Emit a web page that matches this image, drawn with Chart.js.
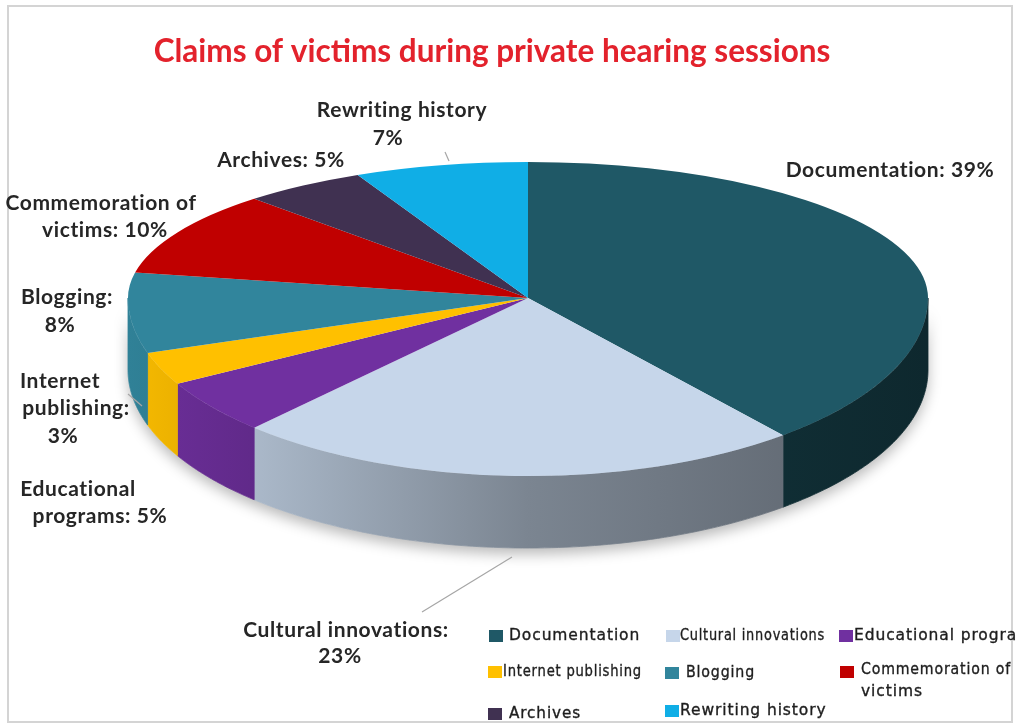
<!DOCTYPE html>
<html>
<head>
<meta charset="utf-8">
<script src="https://cdn.jsdelivr.net/npm/chart.js@4.4.1/dist/chart.umd.min.js"></script>
<style>
html,body{margin:0;padding:0;background:#fff;}
#wrap{width:1018px;height:728px;}
</style>
</head>
<body>
<div id="wrap"><canvas id="c" width="1018" height="728"></canvas></div>
<script>
// ---- data ----
const categories = ['Documentation','Cultural innovations','Educational programs','Internet publishing','Blogging','Commemoration of victims','Archives','Rewriting history'];
const values = [39, 23, 5, 3, 8, 10, 5, 7];
const colors = ['#1f5866','#c6d6ea','#7030a0','#ffc000','#31859c','#c00000','#403151','#10aee6'];
const titleText = 'Claims of victims during private hearing sessions';

// ---- layout (positions only) ----
const CX = 528, AY = 298, RX = 400, RYT = 136, RYB = 178, DEPTH = 72;

function shade(hex, f){
  const n = parseInt(hex.slice(1),16);
  const r = Math.round(((n>>16)&255)*f), g = Math.round(((n>>8)&255)*f), b = Math.round((n&255)*f);
  return `rgb(${r},${g},${b})`;
}

// label lines generated from the data
function labelLines(i){
  const c = categories[i], v = values[i] + '%';
  const w = c.split(' ');
  switch(i){
    case 0: return [`${c}: ${v}`];
    case 1: return [`${c}:`, v];
    case 2: return [w[0], `${w[1]}: ${v}`];
    case 3: return [w[0], `${w[1]}:`, v];
    case 4: return [`${c}:`, v];
    case 5: return [`${w[0]} ${w[1]}`, `${w[2]}: ${v}`];
    case 6: return [`${c}: ${v}`];
    case 7: return [c, v];
  }
}
const labelPos = [
  [[890,170]],
  [[346,630],[340,656]],
  [[78,489],[100,516]],
  [[60,381],[76,408],[63,436]],
  [[67,297],[60,325]],
  [[101,203],[105,230]],
  [[281,160]],
  [[402,110],[388,138]]
];
const leaders = [[[512,557],[422,612]], [[445,152],[449,161]], [[128,394],[142,406]]];

// legend: [squareX, y, textX, maxWidth]
const legendPos = [
  [489,636,509,132],[666,636,680,145],[839,636,854,null],
  [488,672,503,139],[665,673,686,69],[840,672,861,150],
  [488,714,509,72],[665,711,680,148]
];

const pie3d = {
  id:'pie3d',
  beforeDatasetsDraw(chart){
    const ctx = chart.ctx;
    const arcs = chart.getDatasetMeta(0).data;
    const R = arcs[0].outerRadius, ox = arcs[0].x, oy = arcs[0].y;
    const pt = (a, d) => [CX + RX*Math.cos(a), AY + RYB*Math.sin(a) + d];
    // shadow under the pie
    ctx.save();
    ctx.beginPath();
    for(let k=0;k<=120;k++){const p=pt(Math.PI*k/120,0);ctx.lineTo(p[0],p[1]);}
    for(let k=120;k>=0;k--){const p=pt(Math.PI*k/120,DEPTH);ctx.lineTo(p[0],p[1]);}
    ctx.closePath();
    ctx.shadowColor='rgba(0,0,0,0.28)'; ctx.shadowBlur=14; ctx.shadowOffsetY=6;
    ctx.fillStyle='#ffffff'; ctx.fill();
    ctx.restore();
    // sides
    arcs.forEach((arc,i)=>{
      const s = Math.max(arc.startAngle,0), e = Math.min(arc.endAngle,Math.PI);
      if(e<=s) return;
      const g = ctx.createLinearGradient(CX-RX,0,CX+RX,0);
      g.addColorStop(0, shade(colors[i],0.97));
      g.addColorStop(0.5, shade(colors[i],0.62));
      g.addColorStop(1, shade(colors[i],0.45));
      ctx.save();
      ctx.beginPath();
      const n = 80;
      for(let k=0;k<=n;k++){const a=s+(e-s)*k/n;const p=pt(a,0);ctx.lineTo(p[0],p[1]);}
      for(let k=n;k>=0;k--){const a=s+(e-s)*k/n;const p=pt(a,DEPTH);ctx.lineTo(p[0],p[1]);}
      ctx.closePath();
      ctx.fillStyle=g; ctx.fill();
      ctx.strokeStyle=g; ctx.lineWidth=0.8; ctx.stroke();
      ctx.restore();
    });
    // top face: upper half and lower half with different vertical scale
    [[0,AY,RYT],[AY,728-AY,RYB]].forEach(([y0,h,ry])=>{
      ctx.save();
      ctx.beginPath(); ctx.rect(0,y0,1018,h); ctx.clip();
      ctx.translate(CX,AY); ctx.scale(RX/R, ry/R); ctx.translate(-ox,-oy);
      arcs.forEach(a=>a.draw(ctx));
      ctx.restore();
    });
    return false;
  },
  afterDraw(chart){
    const ctx = chart.ctx;
    // frame
    ctx.save();
    ctx.strokeStyle='#d4d4d4'; ctx.lineWidth=2;
    ctx.strokeRect(8,6,1004,716);
    // title
    ctx.fillStyle='#e3222c';
    ctx.font='bold 31.5px Lato';
    ctx.textAlign='center'; ctx.textBaseline='middle';
    ctx.fillText(titleText, 492, 52);
    // leaders
    ctx.strokeStyle='#a6a6a6'; ctx.lineWidth=1.2;
    leaders.forEach(l=>{ctx.beginPath();ctx.moveTo(l[0][0],l[0][1]);ctx.lineTo(l[1][0],l[1][1]);ctx.stroke();});
    // data labels
    ctx.fillStyle='#262626';
    ctx.font='bold 21px Lato';
    ctx.letterSpacing='0.6px';
    categories.forEach((c,i)=>{
      labelLines(i).forEach((t,j)=>{const p=labelPos[i][j];ctx.fillText(t,p[0],p[1]);});
    });
    // legend
    ctx.textAlign='left';
    ctx.font='15.5px "DejaVu Sans"';
    ctx.letterSpacing='0.9px';
    ctx.strokeStyle='#1e1e1e'; ctx.lineWidth=0.35;
    const txt=(t,x,y,mw)=>{ if(mw){ctx.fillText(t,x,y,mw);ctx.strokeText(t,x,y,mw);} else {ctx.fillText(t,x,y);ctx.strokeText(t,x,y);} };
    categories.forEach((c,i)=>{
      const [sx,y,tx,mw]=legendPos[i];
      ctx.fillStyle=colors[i];
      ctx.fillRect(sx,y-6,14,12);
      ctx.fillStyle='#1e1e1e';
      if(i===5){
        const w=c.split(' ');
        txt(w[0]+' '+w[1], tx, y-2, mw);
        txt(w[2], tx, y+20, null);
      } else {
        txt(c, tx, y, mw);
      }
    });
    ctx.restore();
  }
};

new Chart(document.getElementById('c'), {
  type:'pie',
  data:{ labels:categories, datasets:[{ data:values, backgroundColor:colors, borderWidth:0 }] },
  options:{
    responsive:false, animation:false,
    layout:{padding:0},
    plugins:{ legend:{display:false}, tooltip:{enabled:false}, title:{display:false} }
  },
  plugins:[pie3d]
});
</script>
</body>
</html>
